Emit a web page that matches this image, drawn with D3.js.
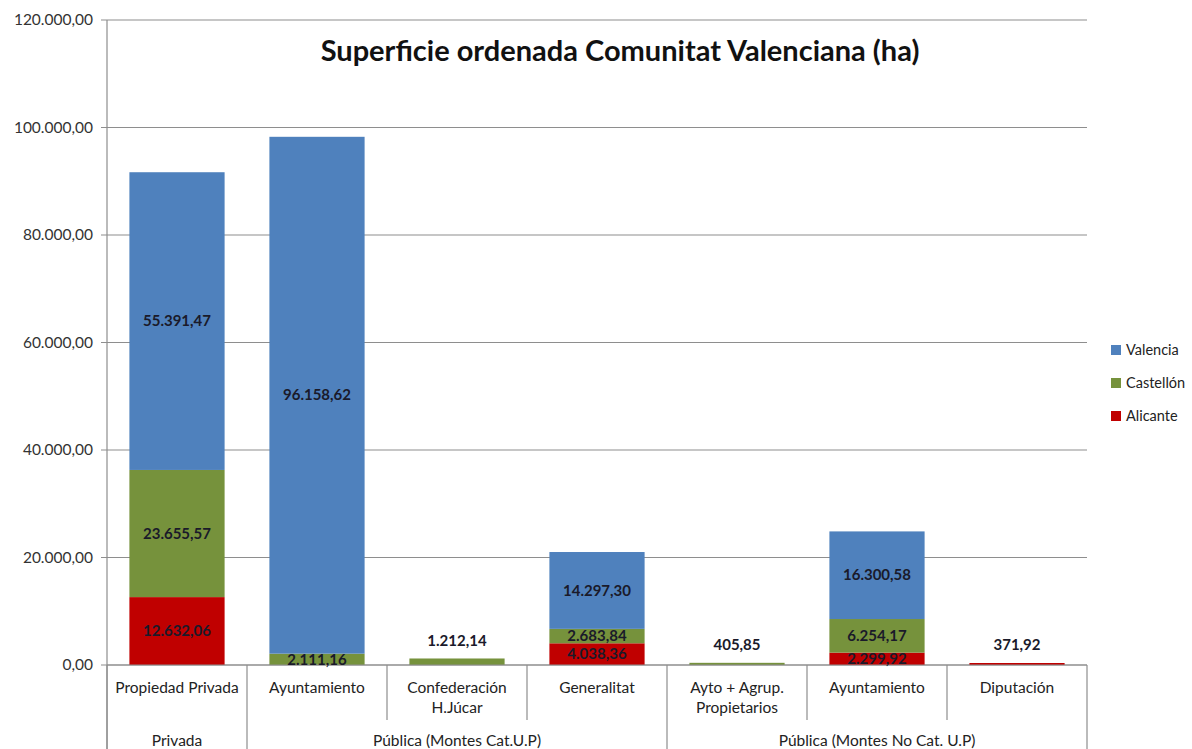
<!DOCTYPE html>
<html>
<head>
<meta charset="utf-8">
<script src="https://cdn.jsdelivr.net/npm/d3@7"></script>
<style>
  body { margin: 0; background: #fff; }
  svg { display: block; font-family: Lato, "Noto Sans", sans-serif; }
</style>
</head>
<body>
<svg></svg>
<script>
// categorías (eje X) y grupo al que pertenece cada una
const categories = ["Propiedad Privada", "Ayuntamiento", "Confederación\nH.Júcar", "Generalitat",
                    "Ayto + Agrup.\nPropietarios", "Ayuntamiento", "Diputación"];
const groupOf = ["Privada", "Pública (Montes Cat.U.P)", "Pública (Montes Cat.U.P)", "Pública (Montes Cat.U.P)",
                 "Pública (Montes No Cat. U.P)", "Pública (Montes No Cat. U.P)", "Pública (Montes No Cat. U.P)"];

// series (ha)
const alicante  = [12632.06, 0, 0, 4038.36, 0, 2299.92, 371.92];
const castellon = [23655.57, 2111.16, 1212.14, 2683.84, 405.85, 6254.17, 0];
const valencia  = [55391.47, 96158.62, 0, 14297.30, 0, 16300.58, 0];

const seriesNames = ["Alicante", "Castellón", "Valencia"];
const seriesColors = ["#c00000", "#76923c", "#4f81bd"];
const yTicks = [0, 20000, 40000, 60000, 80000, 100000, 120000];

const width = 1192, height = 749;
const plotLeft = 107, plotRight = 1087, plotTop = 20, plotBottom = 665;

const svg = d3.select("svg").attr("width", width).attr("height", height);

const es = d3.formatLocale({ decimal: ",", thousands: ".", grouping: [3], currency: ["", "€"] });
const fmt = es.format(",.2f");

// tabla para d3.stack
const table = categories.map((c, i) => ({
    idx: i, Alicante: alicante[i], "Castellón": castellon[i], Valencia: valencia[i]
}));
const stacked = d3.stack().keys(seriesNames)(table);

const xScale = d3.scaleBand()
    .domain(categories.map((c, i) => i))
    .range([plotLeft, plotRight])
    .paddingInner(0.32)
    .paddingOuter(0.16);

const yScale = d3.scaleLinear().domain([0, 120000]).range([plotBottom, plotTop]);

const gridColor = "#8e8e8e";

// rejilla horizontal
svg.append("g")
   .selectAll("line")
   .data(yTicks)
   .join("line")
   .attr("x1", plotLeft - 6)
   .attr("x2", plotRight)
   .attr("y1", d => yScale(d))
   .attr("y2", d => yScale(d))
   .attr("stroke", gridColor)
   .attr("stroke-width", 1.2);

// etiquetas eje Y
svg.append("g")
   .selectAll("text")
   .data(yTicks)
   .join("text")
   .attr("x", plotLeft - 14)
   .attr("y", d => yScale(d))
   .attr("dy", "0.35em")
   .attr("text-anchor", "end")
   .attr("font-size", 15.5)
   .attr("fill", "#333")
   .text(d => fmt(d));

// título
svg.append("text")
   .attr("x", 620)
   .attr("y", 61)
   .attr("text-anchor", "middle")
   .attr("font-size", 29)
   .attr("font-weight", "bold")
   .attr("fill", "#111")
   .text("Superficie ordenada Comunitat Valenciana (ha)");

// barras
const layers = svg.append("g")
   .selectAll("g")
   .data(stacked)
   .join("g")
   .attr("fill", (d, i) => seriesColors[i]);

layers.selectAll("rect")
   .data(d => d)
   .join("rect")
   .attr("x", d => xScale(d.data.idx))
   .attr("width", xScale.bandwidth())
   .attr("y", d => yScale(d[1]))
   .attr("height", d => yScale(d[0]) - yScale(d[1]));

// eje X (línea base)
svg.append("line")
   .attr("x1", plotLeft).attr("x2", plotRight)
   .attr("y1", plotBottom).attr("y2", plotBottom)
   .attr("stroke", gridColor).attr("stroke-width", 1.2);

// eje Y
svg.append("line")
   .attr("x1", plotLeft).attr("x2", plotLeft)
   .attr("y1", plotTop).attr("y2", height)
   .attr("stroke", gridColor).attr("stroke-width", 1.2);

// etiquetas de datos
const totals = categories.map((c, i) => alicante[i] + castellon[i] + valencia[i]);
const labels = [];
stacked.forEach(layer => {
    layer.forEach(d => {
        const v = d[1] - d[0];
        if (v <= 0) return;
        const i = d.data.idx;
        const small = yScale(0) - yScale(totals[i]) < 10;
        labels.push({
            i: i,
            v: v,
            y: small ? yScale(totals[i]) - 18 : (yScale(d[0]) + yScale(d[1])) / 2
        });
    });
});

svg.append("g")
   .selectAll("text")
   .data(labels)
   .join("text")
   .attr("x", d => xScale(d.i) + xScale.bandwidth() / 2)
   .attr("y", d => d.y)
   .attr("dy", "0.35em")
   .attr("text-anchor", "middle")
   .attr("font-size", 15)
   .attr("font-weight", "bold")
   .attr("fill", "#1a1a2a")
   .text(d => fmt(d.v));

// separadores de categoría
const edges = d3.range(categories.length + 1).map(k => plotLeft + k * (plotRight - plotLeft) / categories.length);
svg.append("g")
   .selectAll("line")
   .data(edges)
   .join("line")
   .attr("x1", d => d).attr("x2", d => d)
   .attr("y1", plotBottom)
   .attr("y2", (d, k) => (k === 0 || k === categories.length || groupOf[k] !== groupOf[k - 1]) ? height : 720)
   .attr("stroke", gridColor)
   .attr("stroke-width", 1.2);

// nombres de categoría
svg.append("g")
   .selectAll("text")
   .data(categories)
   .join("text")
   .attr("x", (d, i) => xScale(i) + xScale.bandwidth() / 2)
   .attr("y", 693)
   .attr("text-anchor", "middle")
   .attr("font-size", 15.5)
   .attr("fill", "#222")
   .each(function (d) {
       const t = d3.select(this);
       d.split("\n").forEach((line, j) => {
           t.append("tspan")
            .attr("x", t.attr("x"))
            .attr("dy", j === 0 ? 0 : 20)
            .text(line);
       });
   });

// nombres de grupo
const groupNames = Array.from(new Set(groupOf));
svg.append("g")
   .selectAll("text")
   .data(groupNames)
   .join("text")
   .attr("x", g => {
       const idx = groupOf.map((n, i) => n === g ? i : -1).filter(i => i >= 0);
       return (edges[idx[0]] + edges[idx[idx.length - 1] + 1]) / 2;
   })
   .attr("y", 746)
   .attr("text-anchor", "middle")
   .attr("font-size", 15.5)
   .attr("fill", "#222")
   .text(g => g);

// leyenda
const legend = svg.append("g")
   .selectAll("g")
   .data(seriesNames.slice().reverse())
   .join("g")
   .attr("transform", (d, i) => `translate(1111, ${350 + i * 33})`);

legend.append("rect")
   .attr("x", 0).attr("y", -5)
   .attr("width", 10).attr("height", 10)
   .attr("fill", d => seriesColors[seriesNames.indexOf(d)]);

legend.append("text")
   .attr("x", 15)
   .attr("y", 0)
   .attr("dy", "0.35em")
   .attr("font-size", 14.5)
   .attr("fill", "#222")
   .text(d => d);
</script>
</body>
</html>
